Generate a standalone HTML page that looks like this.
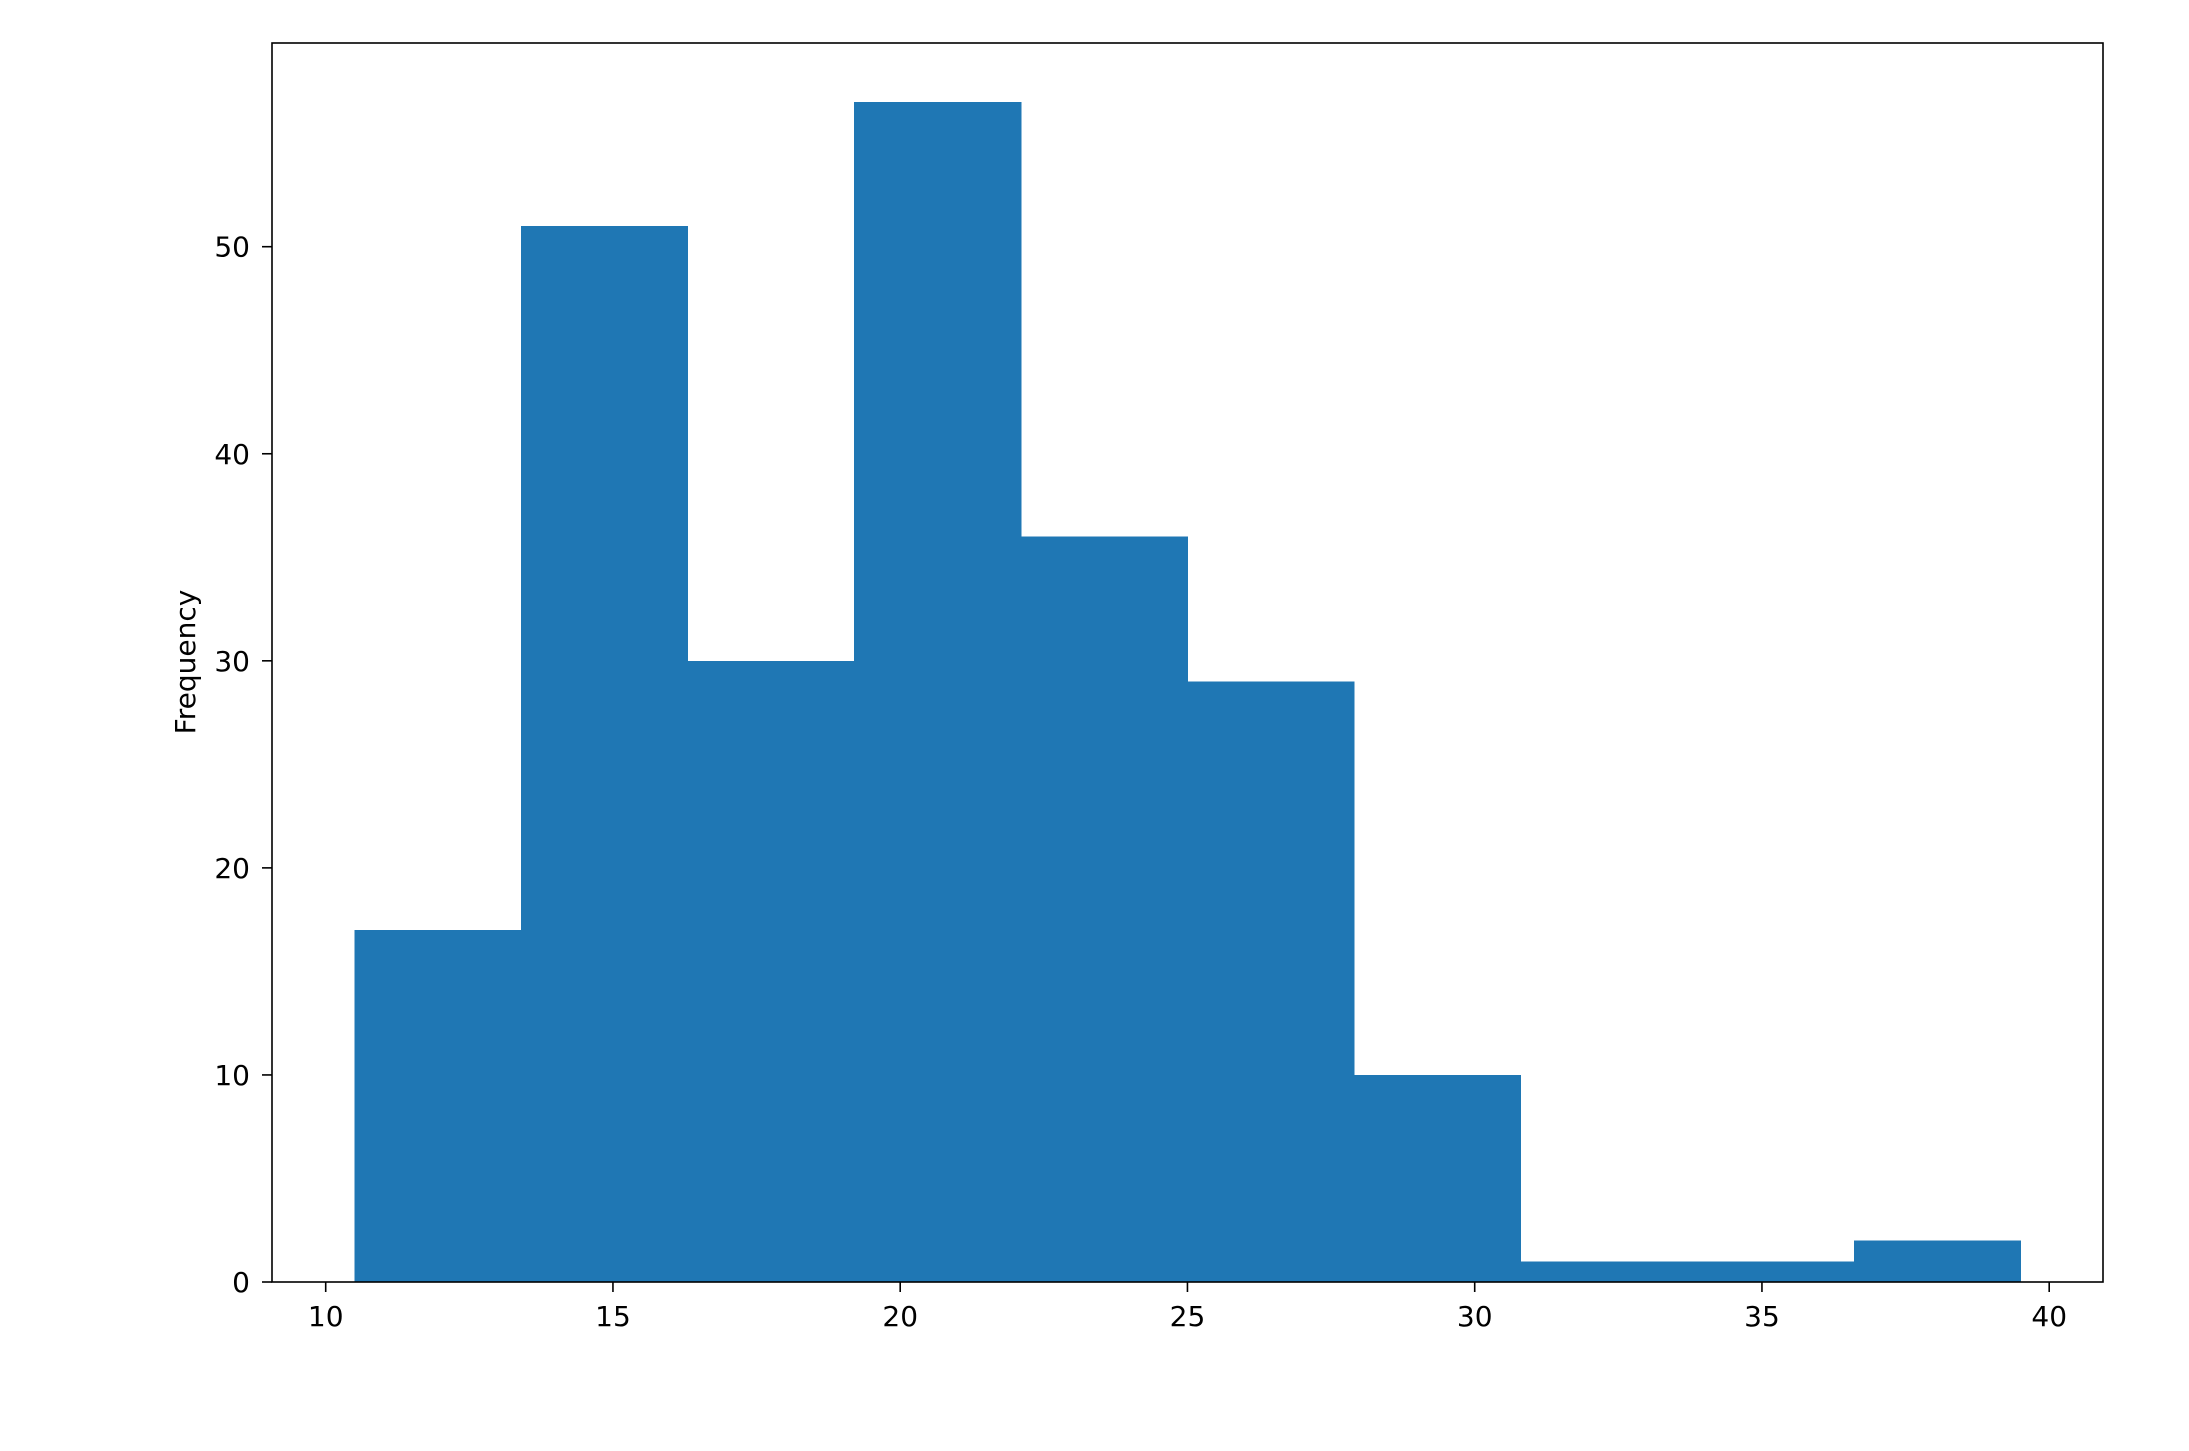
<!DOCTYPE html>
<html><head><meta charset="utf-8"><style>
body{margin:0;background:#fff}
svg{display:block;font-family:"DejaVu Sans","Liberation Sans",sans-serif}
</style></head><body>
<svg id="chart" width="2189" height="1451" viewBox="0 0 2189 1451" xmlns="http://www.w3.org/2000/svg">
<rect width="2189" height="1451" fill="#fff"/>
<g id="bars" shape-rendering="crispEdges"></g>
<g id="axes"></g>
<text transform="translate(187,662) rotate(-90)" text-anchor="middle" dominant-baseline="middle" font-size="28">Frequency</text>
</svg>
<script>
const binEdges = [10.5, 13.4, 16.3, 19.2, 22.1, 25.0, 27.9, 30.8, 33.7, 36.6, 39.5];
const counts = [17, 51, 30, 57, 36, 29, 10, 1, 1, 2];
const xTicks = [10, 15, 20, 25, 30, 35, 40];
const yTicks = [0, 10, 20, 30, 40, 50];

const L = 272, R = 2103, T = 43, B = 1282;
const xs = v => 325.7 + (v - 10) * 57.45;
const ys = v => B - v * 20.706;
const NS = "http://www.w3.org/2000/svg";
function mk(tag, attrs, parent) {
  const e = document.createElementNS(NS, tag);
  for (const k in attrs) e.setAttribute(k, attrs[k]);
  parent.appendChild(e);
  return e;
}
const bars = document.getElementById('bars');
const axes = document.getElementById('axes');
counts.forEach((c, i) => {
  const x0 = xs(binEdges[i]), x1 = xs(binEdges[i + 1]);
  const r = mk('rect', {x: x0, y: ys(c), width: x1 - x0 + 0.5, height: B - ys(c), fill: '#1f77b4'}, bars);
  
  
});
const frame = mk('rect', {x: L, y: T, width: R - L, height: B - T, fill: 'none', stroke: '#000', 'stroke-width': 1.6}, axes);


xTicks.forEach(v => {
  const x = xs(v);
  mk('line', {x1: x, x2: x, y1: B, y2: B + 10, stroke: '#000', 'stroke-width': 1.6}, axes);
  const t = mk('text', {x: x, y: B + 44, 'text-anchor': 'middle', 'font-size': 28}, axes);
  t.textContent = v;
  
  
});
yTicks.forEach(v => {
  const y = ys(v);
  mk('line', {x1: L - 10, x2: L, y1: y, y2: y, stroke: '#000', 'stroke-width': 1.6}, axes);
  const t = mk('text', {x: L - 22, y: y + 10, 'text-anchor': 'end', 'font-size': 28}, axes);
  t.textContent = v;
  
  
});
</script>
</body></html>
